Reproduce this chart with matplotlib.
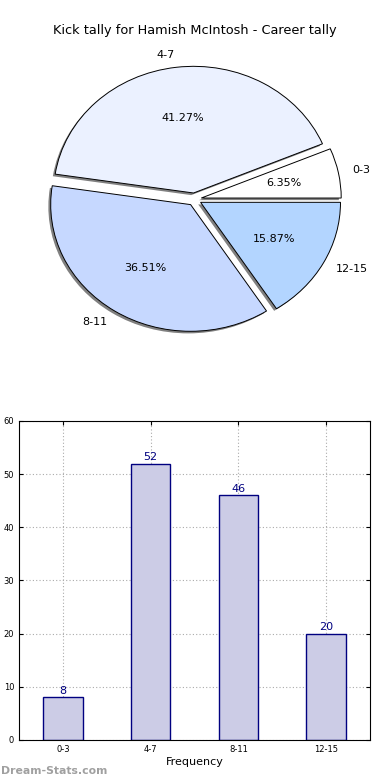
import matplotlib
matplotlib.use("Agg")
import matplotlib.pyplot as plt

title = "Kick tally for Hamish McIntosh - Career tally"
categories = ["0-3", "4-7", "8-11", "12-15"]
counts = [8, 52, 46, 20]
pie_colors = ["#ffffff", "#ebf1ff", "#c6d8ff", "#b3d5ff"]
watermark = "Dream-Stats.com"

fig = plt.figure(figsize=(3.9, 7.8), dpi=100)

# pie on top, not forced to equal aspect (old-style stretched pie)
ax1 = fig.add_axes([0.05, 0.5415, 0.897, 0.406])
wedges, texts, autotexts = ax1.pie(
    counts,
    labels=categories,
    colors=pie_colors,
    explode=[0.05] * len(counts),
    autopct="%1.2f%%",
    shadow={"ox": -0.012, "oy": -0.012, "facecolor": "#808080",
            "alpha": 1, "edgecolor": "none"},
    startangle=0,
    wedgeprops={"edgecolor": "black", "linewidth": 0.7},
    textprops={"fontsize": 8},
)
ax1.set_aspect("auto")
ax1.set_xlim(-1.25, 1.25)
ax1.set_ylim(-1.25, 1.25)
fig.text(0.5, 0.961, title, ha="center", va="center", fontsize=9.3)

# frequency bars below
ax2 = fig.add_axes([0.0487, 0.0513, 0.9, 0.409])
x = range(len(categories))
ax2.bar(x, counts, width=0.45, color="#cccce6", edgecolor="navy", linewidth=1, zorder=2)
for i, v in zip(x, counts):
    ax2.text(i, v + 0.3, str(v), ha="center", va="bottom", color="navy", fontsize=8)
ax2.set_xlim(-0.5, len(categories) - 0.5)
ax2.set_ylim(0, 60)
ax2.set_xticks(list(x))
ax2.set_xticklabels(categories)
ax2.set_yticks(range(0, 61, 10))
ax2.tick_params(labelsize=6, length=3, direction="in", top=True, right=True)
ax2.grid(True, linestyle=(0, (1, 2)), color="#aaaaaa", linewidth=0.8, zorder=0)
ax2.set_xlabel("Frequency", fontsize=8, labelpad=2)
for s in ax2.spines.values():
    s.set_linewidth(0.8)

fig.text(0.002, 0.012, watermark, ha="left", va="center", fontsize=7.8,
         fontweight="bold", color="#a0a0a0")

fig.savefig("out.png", dpi=100)
